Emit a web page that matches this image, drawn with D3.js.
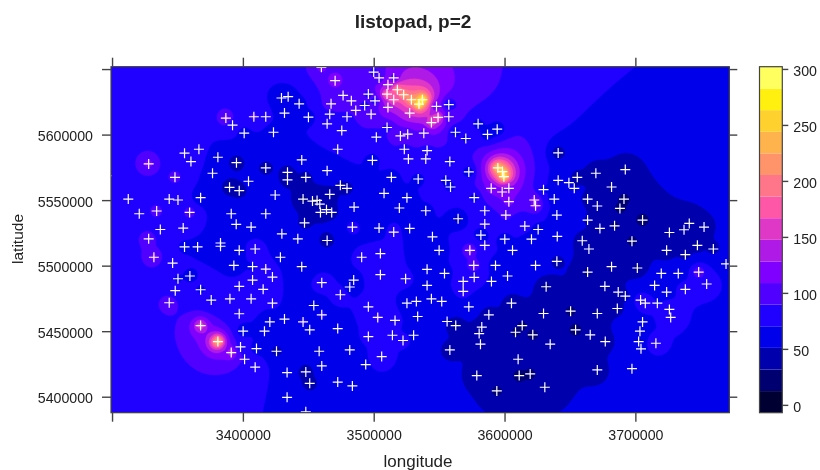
<!DOCTYPE html>
<html lang="en">
<head>
<title>listopad, p=2</title>
<meta charset="UTF-8">
<script src="https://d3js.org/d3.v7.min.js"></script>
<style>
body { margin: 0; background: white; }
svg { filter: blur(0.35px); }
text { font-family: "Liberation Sans", Arial, sans-serif; fill: #222; }
.tick line, .frame { stroke: #444; }
</style>
</head>
<body>
<div id="my_dataviz"></div>
<script>
// station coordinates
var stationLon = [3460000,3470500,3500000,3504100,3515300,3510900,3518100,3510200,3522900,3515300,3528800,3534600,3510900,3527500,3476600,3482900,3495900,3501000,3493100,3486300,3498000,3467400,3466400,3479600,3464400,3475600,3510200,3502000,3520400,3526000,3523400,3526500,3472500,3499000,3513500,3534000,3507900,3525400,3519600,3504100,3515300,3527500,3429500,3434600,3443000,3431800,3450100,3408400,3417500,3387000,3392100,3401000,3423400,3355400,3366400,3360300,3328000,3380900,3395100,3376800,3417500,3434100,3445000,3464400,3448100,3434100,3348100,3404300,3389800,3397200,3424700,3474500,3479600,3466400,3446000,3453200,3456700,3458800,3459300,3463900,3467900,3485000,3312400,3343700,3350400,3367700,3334100,3359300,3320800,3391100,3417500,3394900,3406300,3447100,3354400,3336900,3483700,3429800,3442000,3464400,3328000,
3355400,3365400,3382900,3382900,3397200,3409400,3428700,3332000,3346300,3393100,3407400,3417500,3445000,3490800,3505100,3505100,3524400,3350400,3359500,3422600,3407400,3484700,3481700,3460300,3397200,3415500,3348300,3367700,3474500,3375800,3390100,3406300,3422600,3343700,3454200,3495900,3525400,3532600,3397200,3460300,3503100,3516300,3533600,3431800,3420600,3446000,3451100,3472500,3367700,3400200,3416500,3514300,3530500,3495900,3522400,3380900,3398200,3410400,3425700,3458300,3481700,3391100,3401300,3506100,3409400,3460300,3493900,3433800,3448100,3451100,3472500,3483700,3433800,3448100,
3537200,3548000,3557400,3549200,3557400,3544100,3538300,3562500,3570400,3579800,3587000,3594400,3540800,3539800,3558200,3572700,3555100,3558700,3594900,3598400,3599500,3589800,3598200,3603300,3576800,3603300,3622700,3623700,3539800,3564500,3584900,3601000,3584900,3615500,3625700,3581900,3600200,3620600,3640300,3544900,3629800,3641000,3641000,3649200,3655600,3653300,3638000,3663500,3669800,3692300,3681800,3670900,3691300,3688200,3640000,3663500,3672900,3684100,3705500,3659400,3697400,3726000,3737200,3741200,3752500,
3584900,3550000,3573500,3606100,3664500,3723900,3747400,3759600,3738200,3576500,3593100,3623700,3640000,3681800,3701500,3663500,3540800,3554100,3576800,3602300,3568400,3590000,3719800,3732800,3748400,3754500,3769300,3540800,3568400,3631800,3676700,3714700,3723900,3738200,3686900,3692300,3544100,3552000,3572700,3605300,3704000,3707600,3716800,3686200,3588000,3629800,3650500,3670900,3726000,3727000,3556100,3562700,3582600,3580600,3613500,3608400,3621600,3654300,3665500,3705500,3703500,3581600,3634900,3677000,3702500,3715700,3704300,3558200,3610400,3578800,3611200,3619600,3670900,3697400,3630800,3594100,3296000];
var stationLat = [5651300,5641100,5647700,5643200,5643200,5638100,5634200,5630900,5630400,5626600,5626600,5623300,5620700,5616400,5629900,5625800,5630900,5625800,5622200,5618400,5615600,5623500,5615600,5613600,5608200,5603100,5605400,5598000,5599000,5600300,5588800,5581400,5588800,5580400,5567400,5566100,5555200,5551900,5544000,5528700,5525600,5528400,5627900,5628900,5623500,5616400,5613300,5613600,5613600,5612600,5607200,5601100,5601800,5585800,5588800,5579400,5577600,5582700,5578600,5570500,5574600,5571200,5580700,5572500,5567400,5565400,5567400,5564400,5559800,5557200,5553900,5561300,5559000,5554400,5550800,5549300,5549800,5547000,5540600,5542700,5540600,5544700,5550800,5550800,5550100,5551900,5541700,5540600,5539600,5539600,5539600,5531500,5529400,5532700,5528700,5527600,5529400,5524300,5520500,5519200,5520500,
5514300,5514300,5517300,5514800,5511700,5512700,5506400,5506400,5502000,5500200,5499200,5497400,5499200,5506400,5509200,5493100,5490000,5490000,5492100,5491300,5489000,5489000,5483700,5487000,5484200,5481900,5480900,5481600,5477800,5473700,5474700,5474700,5471400,5471700,5469600,5468600,5471400,5472700,5463300,5462500,5460500,5458200,5461200,5459200,5457100,5457100,5451000,5452000,5454300,5450000,5450000,5446900,5446900,5445900,5442900,5442100,5438000,5436700,5434700,5434700,5435700,5433700,5428600,5430600,5422500,5423500,5424500,5418400,5418900,5410200,5411200,5408200,5399500,5388500,
5626600,5621500,5622800,5613100,5613600,5609200,5601100,5601800,5597000,5608200,5600100,5604100,5587800,5581400,5579400,5571500,5565100,5560000,5574600,5571800,5567900,5559000,5556200,5559000,5551900,5548800,5550100,5545700,5541900,5535800,5541900,5538600,5531700,5530200,5527600,5523300,5520200,5520200,5522300,5522000,5558000,5586000,5565100,5563300,5567400,5559000,5550800,5550800,5570500,5573300,5560000,5545500,5550800,5543700,5538600,5534800,5528400,5530400,5534800,5519000,5518700,5525300,5527400,5532200,5529400,
5515500,5511700,5511700,5511700,5512700,5511700,5515500,5512700,5508400,5500200,5500200,5500200,5503300,5499200,5498200,5495100,5497200,5494100,5491100,5492100,5488000,5488000,5494100,5494100,5495100,5486000,5501300,5484900,5480400,5483900,5484200,5484900,5479800,5481900,5479800,5476800,5474700,5472700,5468600,5471400,5473700,5471400,5471400,5467300,5462500,5463500,5465300,5463500,5466600,5460500,5457400,5454300,5453100,5448200,5454300,5449200,5447200,5451000,5447200,5457100,5450000,5440100,5440100,5442100,5442100,5440800,5436500,5435700,5428600,5416100,5416100,5417400,5420400,5421400,5407200,5404400,5568600];
// measured value at each station
var stationValue = [115,130,80,85,95,130,220,200,230,180,240,300,130,150,110,105,80,75,80,90,100,110,85,85,70,75,80,65,100,95,80,70,70,55,50,60,60,55,60,60,80,60,55,55,60,55,55,95,75,115,80,62,62,90,80,85,115,48,30,62,38,38,55,55,42,38,100,52,28,35,60,48,35,38,22,28,22,35,42,42,42,60,85,72,72,55,100,105,85,60,60,48,65,40,72,75,80,60,62,30,105,
65,65,60,60,65,90,65,115,72,60,68,95,45,80,80,90,75,68,65,72,72,65,65,85,72,80,72,68,80,68,72,80,72,110,58,75,70,70,72,72,95,75,55,68,58,72,62,60,160,52,58,70,70,75,75,240,80,58,38,48,60,140,90,85,85,65,70,62,32,38,55,70,70,55,
300,100,55,180,90,170,100,55,65,60,50,50,80,70,65,50,65,65,260,270,280,115,115,125,60,120,120,120,65,40,85,95,70,80,60,55,60,50,50,60,65,35,55,50,40,50,55,45,30,30,30,40,22,22,55,50,50,25,18,40,22,40,40,40,45,
70,55,125,70,35,35,40,45,45,115,60,55,45,30,25,25,60,60,85,60,85,70,55,55,110,85,70,70,85,25,40,60,65,90,45,45,60,60,55,30,90,90,70,40,35,40,22,35,85,90,50,25,40,40,25,25,22,18,35,70,70,40,35,40,60,90,70,35,35,35,22,25,40,60,30,25,80];

// colour bands of the key, lowest first
var bandColors = ["#000033","#000070","#0000AD","#0000EB","#2000FF","#5000FF","#8000FF","#B01AE6","#DF38C7","#FF57A8","#FF758A","#FF946B","#FFB34D","#FFD12E","#FFF00F","#FFFF60"];
var bandLow = [-7,12.3,31.6,50.9,70.2,89.5,108.8,128.1,147.4,166.7,186,205.3,224.6,243.9,263.2,282.5];
var bandTop = 302;

var xTicks = [3300000,3400000,3500000,3600000,3700000];
var xLabelled = [3400000,3500000,3600000,3700000];
var yTicks = [5400000,5450000,5500000,5550000,5600000,5650000];
var yLabelled = [5400000,5450000,5500000,5550000,5600000];
var keyTicks = [0,50,100,150,200,250,300];

var width = 820, height = 470;
var panel = {left: 111, right: 729.3, top: 66.7, bottom: 412.7};

var svg = d3.select("#my_dataviz").append("svg")
    .attr("width", width)
    .attr("height", height)
    .style("display", "block");

var x = d3.scaleLinear().domain([3299200, 3771800]).range([panel.left, panel.right]);
var y = d3.scaleLinear().domain([5387800, 5651800]).range([panel.bottom, panel.top]);
var key = d3.scaleLinear().domain([-7, bandTop]).range([412.7, 66.7]);

// inverse distance weighting on a grid, same as the map was made
var cell = 2;
var nx = Math.ceil((panel.right - panel.left) / cell);
var ny = Math.ceil((panel.bottom - panel.top) / cell);
var grid = new Float64Array(nx * ny);
for (var j = 0; j < ny; j++) {
  var la = y.invert(panel.top + (j + 0.5) * cell);
  for (var i = 0; i < nx; i++) {
    var lo = x.invert(panel.left + (i + 0.5) * cell);
    var sw = 0, sv = 0;
    for (var k = 0; k < stationLon.length; k++) {
      var dx = stationLon[k] - lo, dy = stationLat[k] - la;
      var w = 1 / (dx * dx + dy * dy + 1);
      sw += w;
      sv += w * stationValue[k];
    }
    grid[j * nx + i] = sv / sw;
  }
}

svg.append("clipPath").attr("id", "panel-clip")
  .append("rect")
    .attr("x", panel.left).attr("y", panel.top)
    .attr("width", panel.right - panel.left)
    .attr("height", panel.bottom - panel.top);

var map = svg.append("g").attr("clip-path", "url(#panel-clip)");

map.append("rect")
    .attr("x", panel.left).attr("y", panel.top)
    .attr("width", panel.right - panel.left)
    .attr("height", panel.bottom - panel.top)
    .attr("fill", bandColors[0]);

var bands = d3.contours().size([nx, ny]).thresholds(bandLow)(grid);
var path = d3.geoPath(d3.geoIdentity().scale(cell).translate([panel.left, panel.top]));

map.selectAll("path.band")
  .data(bands)
  .enter().append("path")
    .attr("class", "band")
    .attr("d", path)
    .attr("fill", function(d, i) { return bandColors[i]; })
    .attr("stroke", function(d, i) { return bandColors[i]; })
    .attr("stroke-width", 0.4);

// stations
map.selectAll("path.station")
  .data(stationLon)
  .enter().append("path")
    .attr("class", "station")
    .attr("d", "M-5,0H5M0,-5V5")
    .attr("transform", function(d, i) { return "translate(" + x(d) + "," + y(stationLat[i]) + ")"; })
    .attr("fill", "none")
    .attr("stroke", "#ffffff")
    .attr("stroke-width", 1.2);

svg.append("rect")
    .attr("class", "frame")
    .attr("x", panel.left).attr("y", panel.top)
    .attr("width", panel.right - panel.left)
    .attr("height", panel.bottom - panel.top)
    .attr("fill", "none")
    .attr("stroke-width", 1.2);

function plain(list) {
  return function(d) { return list.indexOf(d) >= 0 ? d : ""; };
}

var bottom = svg.append("g")
    .attr("transform", "translate(0," + panel.bottom + ")")
    .call(d3.axisBottom(x).tickValues(xTicks).tickSize(9).tickPadding(8).tickFormat(plain(xLabelled)));
var top_ = svg.append("g")
    .attr("transform", "translate(0," + panel.top + ")")
    .call(d3.axisTop(x).tickValues(xTicks).tickSize(9).tickFormat(""));
var left = svg.append("g")
    .attr("transform", "translate(" + panel.left + ",0)")
    .call(d3.axisLeft(y).tickValues(yTicks).tickSize(9).tickPadding(9).tickFormat(plain(yLabelled)));
var right = svg.append("g")
    .attr("transform", "translate(" + panel.right + ",0)")
    .call(d3.axisRight(y).tickValues(yTicks).tickSize(8).tickFormat(""));

// colour key
svg.selectAll("rect.keyband")
  .data(bandLow)
  .enter().append("rect")
    .attr("class", "keyband")
    .attr("x", 759.5)
    .attr("width", 22.8)
    .attr("y", function(d, i) { return key(i < bandLow.length - 1 ? bandLow[i + 1] : bandTop); })
    .attr("height", function(d, i) { return key(d) - key(i < bandLow.length - 1 ? bandLow[i + 1] : bandTop); })
    .attr("fill", function(d, i) { return bandColors[i]; });

svg.append("rect")
    .attr("class", "frame")
    .attr("x", 759.5).attr("y", 66.7)
    .attr("width", 22.8).attr("height", 346)
    .attr("fill", "none")
    .attr("stroke-width", 1.2);

var keyAxis = svg.append("g")
    .attr("transform", "translate(782.3,0)")
    .call(d3.axisRight(key).tickValues(keyTicks).tickSize(6).tickPadding(5));

[bottom, top_, left, right, keyAxis].forEach(function(a) {
  a.select(".domain").remove();
  a.selectAll(".tick line").attr("stroke", "#444").attr("stroke-width", 1.4);
  a.selectAll("text").style("font-size", "14.2px").attr("font-family", null);
});
left.selectAll("text").attr("dy", "0.42em");
keyAxis.selectAll("text").attr("dy", "0.48em");

svg.append("text")
    .attr("x", 413).attr("y", 28)
    .attr("text-anchor", "middle")
    .style("font-size", "19px").style("font-weight", "bold")
    .text("listopad, p=2");

svg.append("text")
    .attr("x", 418).attr("y", 467)
    .attr("text-anchor", "middle")
    .style("font-size", "17px")
    .text("longitude");

svg.append("text")
    .attr("transform", "translate(23,239) rotate(-90)")
    .attr("text-anchor", "middle")
    .style("font-size", "15.5px")
    .text("latitude");
</script>
</body>
</html>
